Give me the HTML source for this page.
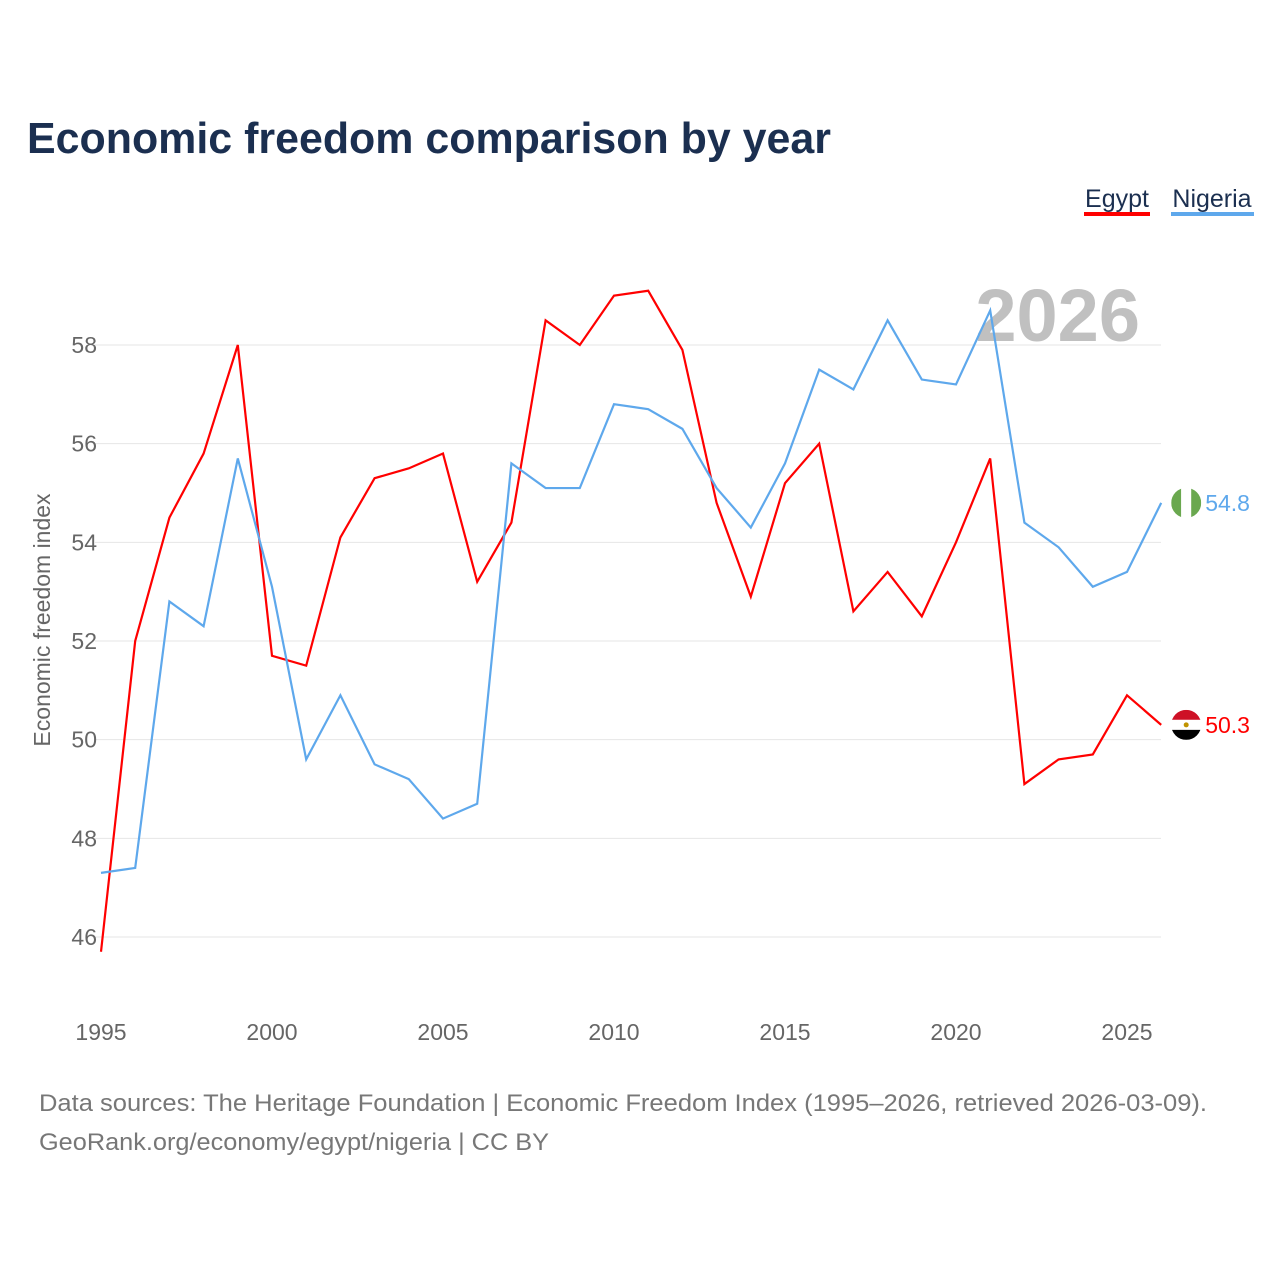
<!DOCTYPE html>
<html><head><meta charset="utf-8">
<style>
body{margin:0;background:#fff;font-family:"Liberation Sans",sans-serif;}
svg{display:block}
</style></head>
<body>
<svg id="chart" width="1280" height="1280" xmlns="http://www.w3.org/2000/svg">
<text x="27" y="153" font-size="44" font-weight="bold" fill="#1b2f50" textLength="804" lengthAdjust="spacingAndGlyphs">Economic freedom comparison by year</text>
<g>
<text x="1117" y="207" font-size="25" fill="#1b2f50" text-anchor="middle">Egypt</text>
<rect x="1084" y="212" width="66" height="4" fill="#ff0000"/>
<text x="1212" y="207" font-size="25" fill="#1b2f50" text-anchor="middle">Nigeria</text>
<rect x="1171" y="212" width="83" height="4" fill="#5ea8ec"/>
</g>
<text x="1140" y="341" font-size="74" font-weight="bold" fill="#c0c0c0" text-anchor="end">2026</text>
<g id="grid"></g>
<g id="yticks"></g>
<g id="xticks"></g>
<text transform="translate(50,620) rotate(-90)" font-size="23" fill="#666" text-anchor="middle">Economic freedom index</text>
<g id="series"></g>
<text x="39" y="1111" font-size="24" fill="#777" textLength="1168" lengthAdjust="spacingAndGlyphs">Data sources: The Heritage Foundation | Economic Freedom Index (1995–2026, retrieved 2026-03-09).</text>
<text x="39" y="1150" font-size="24" fill="#777" textLength="510" lengthAdjust="spacingAndGlyphs">GeoRank.org/economy/egypt/nigeria | CC BY</text>
</svg>
<script>
const years=[1995,1996,1997,1998,1999,2000,2001,2002,2003,2004,2005,2006,2007,2008,2009,2010,2011,2012,2013,2014,2015,2016,2017,2018,2019,2020,2021,2022,2023,2024,2025,2026];
const egypt=[45.7,52.0,54.5,55.8,58.0,51.7,51.5,54.1,55.3,55.5,55.8,53.2,54.4,58.5,58.0,59.0,59.1,57.9,54.8,52.9,55.2,56.0,52.6,53.4,52.5,54.0,55.7,49.1,49.6,49.7,50.9,50.3];
const nigeria=[47.3,47.4,52.8,52.3,55.7,53.1,49.6,50.9,49.5,49.2,48.4,48.7,55.6,55.1,55.1,56.8,56.7,56.3,55.1,54.3,55.6,57.5,57.1,58.5,57.3,57.2,58.7,54.4,53.9,53.1,53.4,54.8];
const yTicks=[46,48,50,52,54,56,58];
const xTicks=[1995,2000,2005,2010,2015,2020,2025];
const NS="http://www.w3.org/2000/svg";
const X=y=>101+(y-1995)*1026/30;
const Y=v=>345+(58-v)*592/12;
function mk(t,a,p){const e=document.createElementNS(NS,t);for(const k in a)e.setAttribute(k,a[k]);p.appendChild(e);return e;}
const grid=document.getElementById('grid'),yt=document.getElementById('yticks'),xt=document.getElementById('xticks'),ser=document.getElementById('series');
yTicks.forEach(v=>{
 const l=mk('line',{x1:95,x2:1161,y1:Y(v),y2:Y(v),stroke:'#e6e6e6','stroke-width':1},grid);
 
 
 const t=mk('text',{x:97,y:Y(v)+8,'font-size':23,fill:'#666','text-anchor':'end'},yt);
 t.textContent=v;
 
 
});
xTicks.forEach(v=>{
 const t=mk('text',{x:X(v),y:1040,'font-size':23,fill:'#666','text-anchor':'middle'},xt);
 t.textContent=v;
 
 
});
function line(vals,color,name){
 const p=mk('polyline',{points:vals.map((v,i)=>X(years[i])+','+Y(v)).join(' '),fill:'none',stroke:color,'stroke-width':2.2},ser);
 
 
 const last=vals[vals.length-1],lx=X(years[years.length-1]),ly=Y(last);
 const t=mk('text',{x:lx+44,y:ly+8,'font-size':23,fill:color},ser);
 t.textContent=last.toFixed(1);
 
 
 return [lx+25,ly];
}
const [ex,ey]=line(egypt,'#ff0000','egypt');
const [nx,ny]=line(nigeria,'#5ea8ec','nigeria');
const fe=mk('g',{},ser);


const ce=mk('clipPath',{id:'ce'},fe);mk('circle',{cx:ex,cy:ey,r:15},ce);
const ge=mk('g',{'clip-path':'url(#ce)'},fe);
mk('rect',{x:ex-15,y:ey-15,width:30,height:10,fill:'#ce1126'},ge);
mk('rect',{x:ex-15,y:ey-5,width:30,height:10,fill:'#fff'},ge);
mk('rect',{x:ex-15,y:ey+5,width:30,height:10,fill:'#000'},ge);
mk('circle',{cx:ex,cy:ey,r:2.5,fill:'#c09300'},ge);
const fn=mk('g',{},ser);


const cp=mk('clipPath',{id:'cn'},fn);mk('circle',{cx:nx,cy:ny,r:15},cp);
const gn=mk('g',{'clip-path':'url(#cn)'},fn);
mk('rect',{x:nx-15,y:ny-15,width:10,height:30,fill:'#6aa84f'},gn);
mk('rect',{x:nx-5,y:ny-15,width:10,height:30,fill:'#fff'},gn);
mk('rect',{x:nx+5,y:ny-15,width:10,height:30,fill:'#6aa84f'},gn);
</script>
</body></html>
